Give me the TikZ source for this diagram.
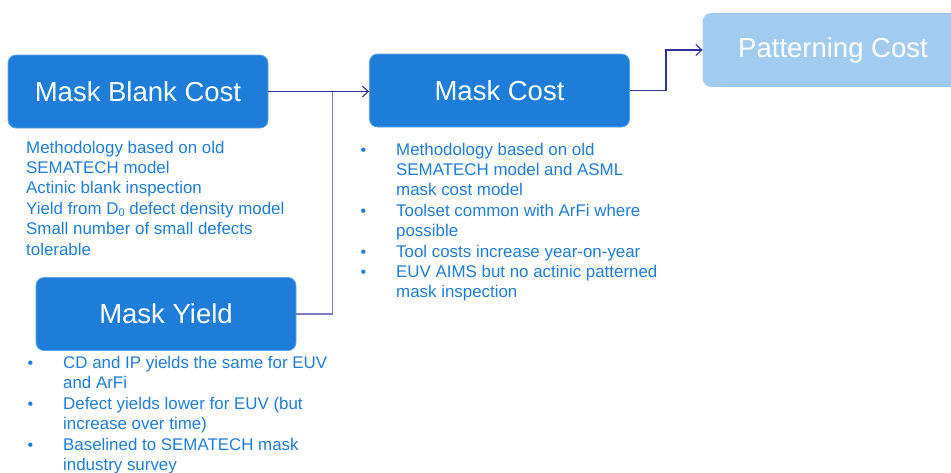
\documentclass[tikz,border=0pt]{standalone}
\usepackage{fontspec}
\setmainfont{Liberation Sans}
\usetikzlibrary{arrows.meta}
\definecolor{boxblue}{HTML}{1E7DD9}
\definecolor{boxedge}{HTML}{5FA3E4}
\definecolor{paleblue}{HTML}{A2CBF0}
\definecolor{textblue}{HTML}{1F7DD8}
\definecolor{linknavy}{HTML}{2E3496}
\definecolor{linklilac}{HTML}{7B7FC0}
\newcommand{\notebullet}{{\fontsize{16}{16}\selectfont\textbullet}}
\newcommand{\lowsub}[1]{\raisebox{-0.3ex}{\fontsize{11}{11}\selectfont #1}}
\tikzset{
  stage/.style={rounded corners=8pt, fill=boxblue, draw=boxedge, line width=0.8pt,
    minimum width=260pt, minimum height=73pt, inner sep=0pt, text=white,
    font=\fontsize{27.5}{32}\selectfont},
  futurestage/.style={stage, fill=paleblue, draw=paleblue},
  notes/.style={anchor=base west, inner sep=0pt, text=textblue,
    font=\fontsize{16.9}{20.4}\selectfont},
  link/.style={draw=linknavy, line width=1.1pt, -{Straight Barb[length=6pt,width=11pt]}},
  feeder/.style={draw=linklilac, line width=1.1pt}
}
\begin{document}
\begin{tikzpicture}[x=1pt,y=-1pt]
\useasboundingbox (0,0) rectangle (951,472);

% stage boxes
\node[stage] (mbc) at (138,91.5) {Mask Blank Cost};
\node[stage] (mc) at (499.5,90.5) {Mask Cost};
\node[futurestage] (pc) at (833,50) {Patterning Cost};
\node[stage] (my) at (166,314) {Mask Yield};

% notes under each stage
\node[notes] (mbcnotes) at (26,153) {\begin{tabular}[t]{@{}l@{}}
Methodology based on old\\
SEMATECH model\\
Actinic blank inspection\\
Yield from D\lowsub{0} defect density model\\
Small number of small defects\\
tolerable
\end{tabular}};

\node[notes] (mcnotes) at (360.5,155) {\begin{tabular}[t]{@{}p{35.5pt}@{}l@{}}
\notebullet & Methodology based on old\\
 & SEMATECH model and ASML\\
 & mask cost model\\
\notebullet & Toolset common with ArFi where\\
 & possible\\
\notebullet & Tool costs increase year-on-year\\
\notebullet & EUV AIMS but no actinic patterned\\
 & mask inspection
\end{tabular}};

\node[notes] (mynotes) at (27.5,368.5) {\begin{tabular}[t]{@{}p{35.5pt}@{}l@{}}
\notebullet & CD and IP yields the same for EUV\\
 & and ArFi\\
\notebullet & Defect yields lower for EUV (but\\
 & increase over time)\\
\notebullet & Baselined to SEMATECH mask\\
 & industry survey
\end{tabular}};

% connectors
\coordinate (join) at (332.5,91);
\coordinate (bend) at (666,50);
\draw[feeder] (my.east) -| (join);
\draw[link] (mbc.east) -- (mbc.east -| mc.west);
\draw[link] (mc.east) -| (bend) -- (pc.west);
\end{tikzpicture}
\end{document}
